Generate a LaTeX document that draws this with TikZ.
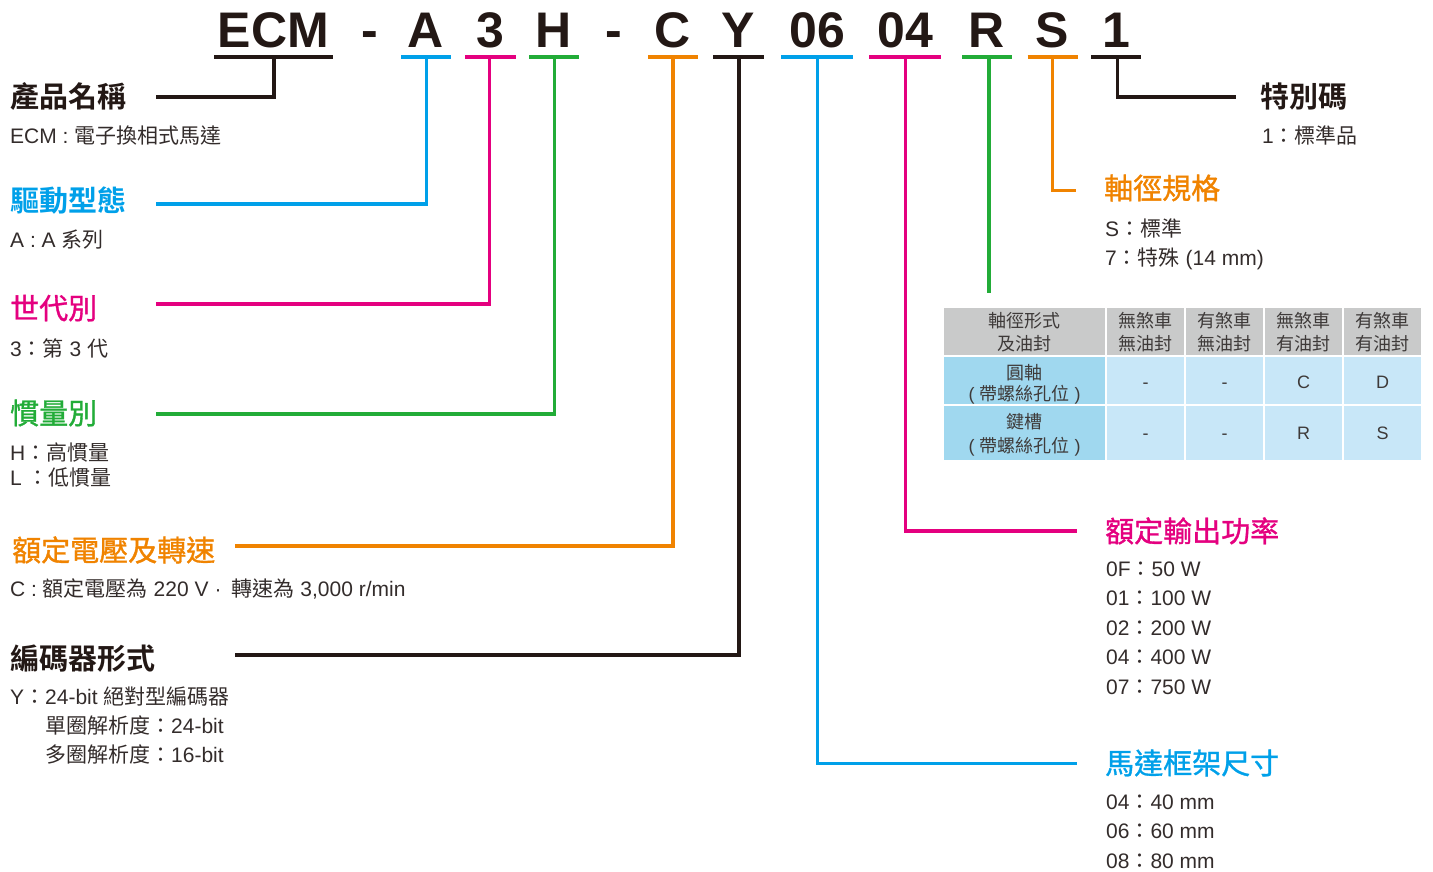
\documentclass[tikz,border=0pt]{standalone}
\usepackage{fontspec}
\setmainfont{Liberation Sans}
\newfontfamily\cjk{Noto Sans CJK TC}
\newfontfamily\cjkb{Noto Sans CJK TC Bold}
\newfontfamily\cjkm[FakeBold=1.2]{Noto Sans CJK TC}
\newcommand\zh[1]{{\cjk #1}}
\definecolor{kblack}{HTML}{231815}
\definecolor{kblue}{HTML}{00A0E9}
\definecolor{kpink}{HTML}{E4007F}
\definecolor{kgreen}{HTML}{22AC38}
\definecolor{korange}{HTML}{F08300}
\definecolor{ktext}{HTML}{332C2B}
\definecolor{ttext}{HTML}{3E3A39}
\definecolor{thgray}{HTML}{C9CACA}
\definecolor{tblue}{HTML}{A0D8EF}
\definecolor{tlight}{HTML}{C8E7F8}
\tikzset{
  code/.style={inner sep=0pt, anchor=base, text=kblack, font=\fontsize{50}{50}\selectfont\bfseries},
  ttlb/.style={inner sep=0pt, anchor=base west, font=\fontsize{29}{29}\selectfont\cjkb},
  ttlm/.style={inner sep=0pt, anchor=base west, font=\fontsize{29}{29}\selectfont\cjkm},
  body/.style={inner sep=0pt, anchor=base west, text=ktext, font=\fontsize{21}{29}\selectfont},
  tab/.style={inner sep=0pt, anchor=base, text=ttext, font=\fontsize{18}{23}\selectfont},
  conn/.style={line width=3.3pt},
}
\begin{document}
\begin{tikzpicture}[x=1pt,y=-1pt]
\useasboundingbox (0,0) rectangle (1433,872);
% ---------- code letters ----------
\node[code] (cECM) at (273.5,48) {ECM};
\node[code] (cd1)  at (370,48) {-};
\node[code] (cA)   at (426,48) {A};
\node[code] (c3)   at (490.5,48) {3};
\node[code] (cH)   at (554,48) {H};
\node[code] (cd2)  at (614,48) {-};
\node[code] (cC)   at (673,48) {C};
\node[code] (cY)   at (738.5,48) {Y};
\node[code] (c06)  at (817,48) {06};
\node[code] (c04)  at (905,48) {04};
\node[code] (cR)   at (987,48) {R};
\node[code] (cS)   at (1052.5,48) {S};
\node[code] (c1)   at (1116,48) {1};
% underline end points
\coordinate (uECMl) at (214,57);   \coordinate (uECMr) at (333,57);
\coordinate (uAl) at (401,57);     \coordinate (uAr) at (451,57);
\coordinate (u3l) at (465,57);     \coordinate (u3r) at (516,57);
\coordinate (uHl) at (529,57);     \coordinate (uHr) at (579,57);
\coordinate (uCl) at (648,57);     \coordinate (uCr) at (698,57);
\coordinate (uYl) at (713,57);     \coordinate (uYr) at (764,57);
\coordinate (u06l) at (781,57);    \coordinate (u06r) at (853,57);
\coordinate (u04l) at (869,57);    \coordinate (u04r) at (941,57);
\coordinate (uRl) at (962,57);     \coordinate (uRr) at (1012,57);
\coordinate (uSl) at (1027.5,57);  \coordinate (uSr) at (1077.5,57);
\coordinate (u1l) at (1091,57);    \coordinate (u1r) at (1141,57);
\draw[conn,kblack]  (uECMl) -- (uECMr);
\draw[conn,kblue]   (uAl) -- (uAr);
\draw[conn,kpink]   (u3l) -- (u3r);
\draw[conn,kgreen]  (uHl) -- (uHr);
\draw[conn,korange] (uCl) -- (uCr);
\draw[conn,kblack]  (uYl) -- (uYr);
\draw[conn,kblue]   (u06l) -- (u06r);
\draw[conn,kpink]   (u04l) -- (u04r);
\draw[conn,kgreen]  (uRl) -- (uRr);
\draw[conn,korange] (uSl) -- (uSr);
\draw[conn,kblack]  (u1l) -- (u1r);
% connector start points (on the underlines)
\coordinate (vECM) at (274,57);
\coordinate (vA) at (426.5,57);
\coordinate (v3) at (489.5,57);
\coordinate (vH) at (554.5,57);
\coordinate (vC) at (673,57);
\coordinate (vY) at (739,57);
\coordinate (v06) at (817.5,57);
\coordinate (v04) at (905.5,57);
\coordinate (vR) at (989,57);
\coordinate (vS) at (1052.5,57);
\coordinate (v1) at (1117.5,57);
% connector free ends
\coordinate (eECM) at (156,97);
\coordinate (eA) at (156,204);
\coordinate (e3) at (156,304);
\coordinate (eH) at (156,414);
\coordinate (eC) at (235,546);
\coordinate (eY) at (235,655);
\coordinate (e06) at (1077,763.5);
\coordinate (e04) at (1077,531);
\coordinate (eR) at (989,293);
\coordinate (eS) at (1076,190.5);
\coordinate (e1) at (1236,97);
% connectors
\draw[conn,kblack]  (vECM) |- (eECM);
\draw[conn,kblue]   (vA) |- (eA);
\draw[conn,kpink]   (v3) |- (e3);
\draw[conn,kgreen]  (vH) |- (eH);
\draw[conn,korange] (vC) |- (eC);
\draw[conn,kblack]  (vY) |- (eY);
\draw[conn,kblue]   (v06) |- (e06);
\draw[conn,kpink]   (v04) |- (e04);
\draw[conn,kgreen]  (vR) -- (eR);
\draw[conn,korange] (vS) |- (eS);
\draw[conn,kblack]  (v1) |- (e1);
% ---------- left labels ----------
\node[ttlb,text=kblack] (t1) at (10,108) {產品名稱};
\node[body] (b1) at (10,144) {ECM : \zh{電子換相式馬達}};
\node[ttlb,text=kblue] (t2) at (10,211.5) {驅動型態};
\node[body] (b2) at (10,247) {A : A \zh{系列}};
\node[ttlm,text=kpink] (t3) at (10,319) {世代別};
\node[body] (b3) at (10,356) {3\zh{：第} 3 \zh{代}};
\node[ttlm,text=kgreen] (t4) at (10,424) {慣量別};
\node[body] (b4a) at (10,460) {H\zh{：高慣量}};
\node[body] (b4b) at (10,485) {L \zh{：低慣量}};
\node[ttlm,text=korange] (t5) at (12,561) {額定電壓及轉速};
\node[body] (b5) at (10,596) {C : \zh{額定電壓為} 220 V\kern6pt·\kern10pt\zh{轉速為} 3,000 r/min};
\node[ttlb,text=kblack] (t6) at (10,669) {編碼器形式};
\node[body] (b6a) at (10,704) {Y\zh{：}24-bit \zh{絕對型編碼器}};
\node[body] (b6b) at (45,733) {\zh{單圈解析度：}24-bit};
\node[body] (b6c) at (45,762) {\zh{多圈解析度：}16-bit};
% ---------- right labels ----------
\node[ttlb,text=kblack] (t7) at (1260,108) {特別碼};
\node[body] (b7) at (1262,144) {1\zh{：標準品}};
\node[ttlm,text=korange] (t8) at (1104,199) {軸徑規格};
\node[body] (b8a) at (1105,236) {S\zh{：標準}};
\node[body] (b8b) at (1105,265) {7\zh{：特殊} (14 mm)};
\node[ttlm,text=kpink] (t9) at (1105,542) {額定輸出功率};
\node[body] (b9a) at (1106,576) {0F\zh{：}50 W};
\node[body] (b9b) at (1106,605.5) {01\zh{：}100 W};
\node[body] (b9c) at (1106,635) {02\zh{：}200 W};
\node[body] (b9d) at (1106,664.5) {04\zh{：}400 W};
\node[body] (b9e) at (1106,694) {07\zh{：}750 W};
\node[ttlm,text=kblue] (t10) at (1105,774) {馬達框架尺寸};
\node[body] (b10a) at (1106,809) {04\zh{：}40 mm};
\node[body] (b10b) at (1106,838.5) {06\zh{：}60 mm};
\node[body] (b10c) at (1106,868) {08\zh{：}80 mm};
% ---------- table ----------
\foreach \xa/\xb [count=\i] in {944/1105,1107/1184,1186/1263,1265/1342,1344/1421}{
  \foreach \ya/\yb [count=\j] in {308/355,357/404,406/460}{
    \ifnum\j=1 \def\cc{thgray}\else\ifnum\i=1 \def\cc{tblue}\else\def\cc{tlight}\fi\fi
    \fill[\cc] (\xa,\ya) rectangle (\xb,\yb);
  }
}
\node[tab] (h1a) at (1024.5,327.5) {\zh{軸徑形式}};
\node[tab] (h1b) at (1024.5,350) {\zh{及油封}};
\node[tab] (h2a) at (1145.5,327.5) {\zh{無煞車}};
\node[tab] (h2b) at (1145.5,350) {\zh{無油封}};
\node[tab] (h3a) at (1224.5,327.5) {\zh{有煞車}};
\node[tab] (h3b) at (1224.5,350) {\zh{無油封}};
\node[tab] (h4a) at (1303.5,327.5) {\zh{無煞車}};
\node[tab] (h4b) at (1303.5,350) {\zh{有油封}};
\node[tab] (h5a) at (1382.5,327.5) {\zh{有煞車}};
\node[tab] (h5b) at (1382.5,350) {\zh{有油封}};
\node[tab] (r1a) at (1024.5,379) {\zh{圓軸}};
\node[tab] (r1b) at (1024.5,400) {( \zh{帶螺絲孔位} )};
\node[tab] (r1c2) at (1145.5,388) {-};
\node[tab] (r1c3) at (1224.5,388) {-};
\node[tab] (r1c4) at (1303.5,388) {C};
\node[tab] (r1c5) at (1382.5,388) {D};
\node[tab] (r2a) at (1024.5,428.5) {\zh{鍵槽}};
\node[tab] (r2b) at (1024.5,452) {( \zh{帶螺絲孔位} )};
\node[tab] (r2c2) at (1145.5,439.5) {-};
\node[tab] (r2c3) at (1224.5,439.5) {-};
\node[tab] (r2c4) at (1303.5,439.5) {R};
\node[tab] (r2c5) at (1382.5,439.5) {S};
\end{tikzpicture}
\end{document}
